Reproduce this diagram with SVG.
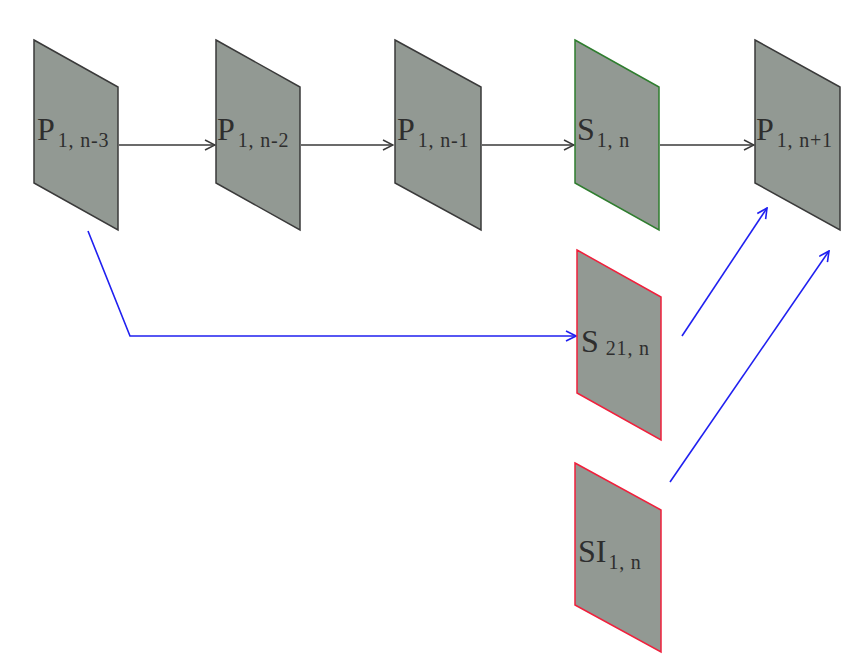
<svg xmlns="http://www.w3.org/2000/svg" width="842" height="671" viewBox="0 0 842 671">
<defs>
<style>
.pl{fill:#929993;stroke-width:1.5;stroke-linejoin:miter}
.k{stroke:#3a3a3a}
.g{stroke:#2f7d2f}
.r{stroke:#f0203c}
.t{font-family:"Liberation Serif",serif;fill:#2e2e2e}
.big{font-size:32px}
.sub{font-size:20px;letter-spacing:0.8px}
.ck{fill:none;stroke:#3a3a3a;stroke-width:1.5}
.cb{fill:none;stroke:#2020f0;stroke-width:1.6}
</style>
<marker id="ak" viewBox="0 0 12 12" refX="11" refY="6" markerWidth="12" markerHeight="12" markerUnits="userSpaceOnUse" orient="auto">
<path d="M1,1 L11,6 L1,11" fill="none" stroke="#3a3a3a" stroke-width="1.5"/>
</marker>
<marker id="ab" viewBox="0 0 12 12" refX="11" refY="6" markerWidth="12" markerHeight="12" markerUnits="userSpaceOnUse" orient="auto">
<path d="M1,1 L11,6 L1,11" fill="none" stroke="#2020f0" stroke-width="1.6"/>
</marker>
</defs>
<rect width="842" height="671" fill="#ffffff"/>
<g id="connectors">
<line class="ck" x1="119" y1="145" x2="215" y2="145" marker-end="url(#ak)"/>
<line class="ck" x1="301" y1="145" x2="393" y2="145" marker-end="url(#ak)"/>
<line class="ck" x1="482" y1="145" x2="574" y2="145" marker-end="url(#ak)"/>
<line class="ck" x1="660" y1="145" x2="754" y2="145" marker-end="url(#ak)"/>
<polyline class="cb" points="88,231 130,336 576,336" marker-end="url(#ab)"/>
<line class="cb" x1="682" y1="336" x2="767" y2="208" marker-end="url(#ab)"/>
<line class="cb" x1="670" y1="482" x2="829" y2="251" marker-end="url(#ab)"/>
</g>
<g id="p1n-3">
<polygon class="pl k" points="34,40 118,87 118,230 34,183"/>
<text class="t" x="37" y="140"><tspan class="big">P</tspan><tspan class="sub" dx="3" dy="7">1, n-3</tspan></text>
</g>
<g id="p1n-2">
<polygon class="pl k" points="216,40 300,87 300,230 216,183"/>
<text class="t" x="217" y="140"><tspan class="big">P</tspan><tspan class="sub" dx="3" dy="7">1, n-2</tspan></text>
</g>
<g id="p1n-1">
<polygon class="pl k" points="395,40 481,87 481,230 395,183"/>
<text class="t" x="397" y="140"><tspan class="big">P</tspan><tspan class="sub" dx="3" dy="7">1, n-1</tspan></text>
</g>
<g id="s1n">
<polygon class="pl g" points="575,40 659,87 659,230 575,183"/>
<text class="t" x="577" y="140"><tspan class="big">S</tspan><tspan class="sub" dx="2" dy="7">1, n</tspan></text>
</g>
<g id="p1n+1">
<polygon class="pl k" points="755,40 840,87 840,230 755,183"/>
<text class="t" x="756" y="140"><tspan class="big">P</tspan><tspan class="sub" dx="3" dy="7">1, n+1</tspan></text>
</g>
<g id="s21n">
<polygon class="pl r" points="577,250 661,297 661,440 577,393"/>
<text class="t" x="581" y="352"><tspan class="big">S</tspan><tspan class="sub" dx="7" dy="3">21, n</tspan></text>
</g>
<g id="si1n">
<polygon class="pl r" points="575,463 661,510 661,652 575,605"/>
<text class="t" x="578" y="562"><tspan class="big">SI</tspan><tspan class="sub" dx="2" dy="7">1, n</tspan></text>
</g>
</svg>
